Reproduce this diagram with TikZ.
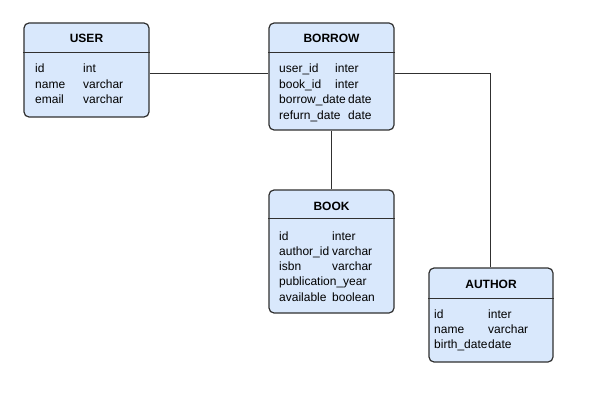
\documentclass[tikz,border=0pt]{standalone}
\usepackage{fontspec}
\setmainfont{Liberation Sans}
\usetikzlibrary{positioning}

\definecolor{tablefill}{HTML}{D9E8FC}
\definecolor{edgegray}{HTML}{303030}

\tikzset{
	table/.style={draw=edgegray, fill=tablefill, line width=1.2pt, rounded corners=5pt, inner sep=0pt},
	title/.style={anchor=base, inner sep=0pt, font=\bfseries\fontsize{12}{14}\selectfont},
	field/.style={anchor=base west, inner sep=0pt, font=\fontsize{12}{14}\selectfont},
	link/.style={draw=edgegray, line width=1pt}
}

\begin{document}
\begin{tikzpicture}[x=1pt, y=1pt]
\useasboundingbox (0,0) rectangle (602,-401);

% tables
\node[table, minimum width=125, minimum height=94] (user) at (86.5,-70) {};
\node[table, minimum width=125, minimum height=107] (borrow) at (331.5,-76.5) {};
\node[table, minimum width=125, minimum height=123] (book) at (331.5,-251.5) {};
\node[table, minimum width=124, minimum height=94] (author) at (491,-315) {};

% header lines
\draw[edgegray, line width=1pt] (user.west |- 0,-53) -- (user.east |- 0,-53);
\draw[edgegray, line width=1pt] (borrow.west |- 0,-53) -- (borrow.east |- 0,-53);
\draw[edgegray, line width=1pt] (book.west |- 0,-218) -- (book.east |- 0,-218);
\draw[edgegray, line width=1pt] (author.west |- 0,-298) -- (author.east |- 0,-298);

% titles
\path (user.center |- 0,-43) node[title] (userT) {USER};
\path (borrow.center |- 0,-43) node[title] (borrowT) {BORROW};
\path (book.center |- 0,-210) node[title] (bookT) {BOOK};
\path (author.center |- 0,-288) node[title] (authorT) {AUTHOR};

% fields
\foreach \n/\t [count=\i from 0] in {id/int, name/varchar, email/varchar}
{
	\path (35,-73-15.5*\i) node[field] {\n};
	\path (83,-73-15.5*\i) node[field] {\t};
}

\foreach \n/\t [count=\i from 0] in {user\_id/inter, book\_id/inter}
{
	\path (279,-73-15.5*\i) node[field] {\n};
	\path (335,-73-15.5*\i) node[field] {\t};
}
\path (279,-104) node[field] {borrow\_date};
\path (348,-104) node[field] {date};
\path (279,-119.5) node[field] {refurn\_date};
\path (348,-119.5) node[field] {date};

\foreach \n/\t [count=\i from 0] in {id/inter, author\_id/varchar, isbn/varchar, publication\_year/, available/boolean}
{
	\path (279,-240-15.25*\i) node[field] {\n};
	\path (332,-240-15.25*\i) node[field] {\t};
}

\foreach \n/\t [count=\i from 0] in {id/inter, name/varchar, birth\_date/date}
{
	\path (434,-318-15*\i) node[field] {\n};
	\path (488,-318-15*\i) node[field] {\t};
}

% relations
\coordinate (bend) at (490,-74);
\draw[link] (user.east |- 0,-74) -- (borrow.west |- 0,-74);
\draw[link] (borrow.south) -- (book.north);
\draw[link] (borrow.east |- bend) -- (bend) -- (author.north -| bend);

\end{tikzpicture}
\end{document}
